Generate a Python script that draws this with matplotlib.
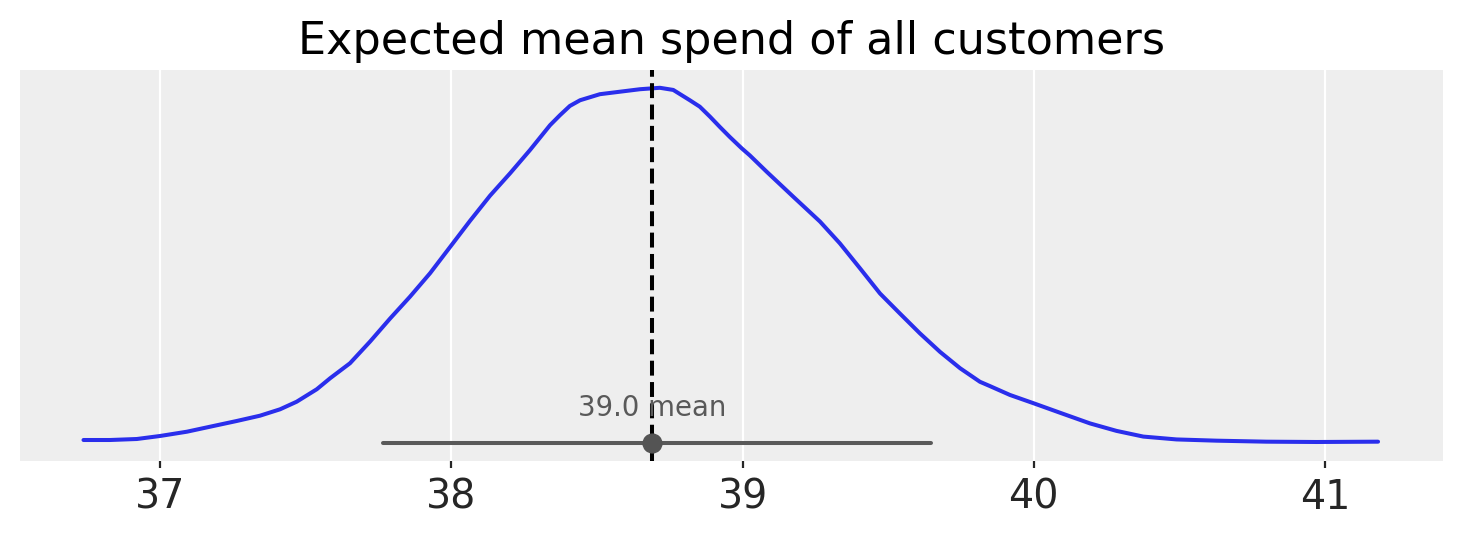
import matplotlib
matplotlib.use("Agg")
import matplotlib.pyplot as plt

# ---- data ----
title = "Expected mean spend of all customers"
kde_x = [36.737, 36.828, 36.920, 37.000, 37.092, 37.172, 37.263, 37.343, 37.412,
         37.469, 37.538, 37.584, 37.652, 37.721, 37.790, 37.858, 37.927, 37.996,
         38.064, 38.133, 38.202, 38.270, 38.339, 38.373, 38.407, 38.442, 38.510,
         38.579, 38.648, 38.716, 38.762, 38.819, 38.853, 38.888, 38.922, 38.956,
         38.997, 39.025, 39.083, 39.174, 39.266, 39.334, 39.403, 39.472, 39.540,
         39.609, 39.678, 39.747, 39.815, 39.849, 39.918, 39.998, 40.090, 40.193,
         40.284, 40.376, 40.490, 40.628, 40.799, 40.971, 41.182]
kde_density = [0.0084, 0.0084, 0.0112, 0.0197, 0.0317, 0.0458, 0.0618, 0.0767, 0.0947,
               0.116, 0.151, 0.182, 0.224, 0.285, 0.350, 0.411, 0.477, 0.551,
               0.624, 0.695, 0.758, 0.823, 0.893, 0.921, 0.947, 0.963, 0.980,
               0.987, 0.994, 0.998, 0.992, 0.963, 0.945, 0.917, 0.888, 0.860,
               0.828, 0.808, 0.762, 0.692, 0.622, 0.561, 0.491, 0.420, 0.364,
               0.308, 0.256, 0.210, 0.172, 0.160, 0.135, 0.112, 0.085, 0.055,
               0.034, 0.018, 0.010, 0.0065, 0.0037, 0.0028, 0.0037]
hdi_bounds = [37.766, 39.647]
point_estimate = 38.689
point_label = "39.0 mean"
xticks = [37, 38, 39, 40, 41]

fig = plt.figure(figsize=(14.63, 5.37), dpi=100)
ax = fig.add_axes([20/1463, 1 - 461/537, 1423/1463, 391/537])
ax.set_facecolor("#eeeeee")
for s in ax.spines.values():
    s.set_visible(False)

ax.plot(kde_x, kde_density, color="#2a2eec", lw=2.9, solid_capstyle="round",
        solid_joinstyle="round", zorder=3)
ax.plot(hdi_bounds, [0, 0], color="#595959", lw=2.9, solid_capstyle="round", zorder=4)
ax.axvline(point_estimate, color="black", lw=2.9, ls="--", zorder=5)
ax.plot([point_estimate], [0], "o", color="#545454", ms=13.5, zorder=6)
ax.text(point_estimate, 0.076, point_label, ha="center", va="baseline",
        fontsize=19.8, color="#595959", zorder=7)

ax.set_xlim(36.519, 41.405)
ax.set_ylim(-0.0506, 1.048)
ax.set_xticks(xticks)
ax.set_xticklabels([str(t) for t in xticks])
ax.set_yticks([])
ax.grid(axis="x", color="white", lw=1.6)
ax.set_axisbelow(True)
ax.tick_params(axis="x", length=5, width=1.6, color="#262626", labelsize=28.5,
               labelcolor="#262626", pad=7)
ax.set_title(title, fontsize=32, pad=11.5, color="black")

fig.savefig("out.png", dpi=100)
